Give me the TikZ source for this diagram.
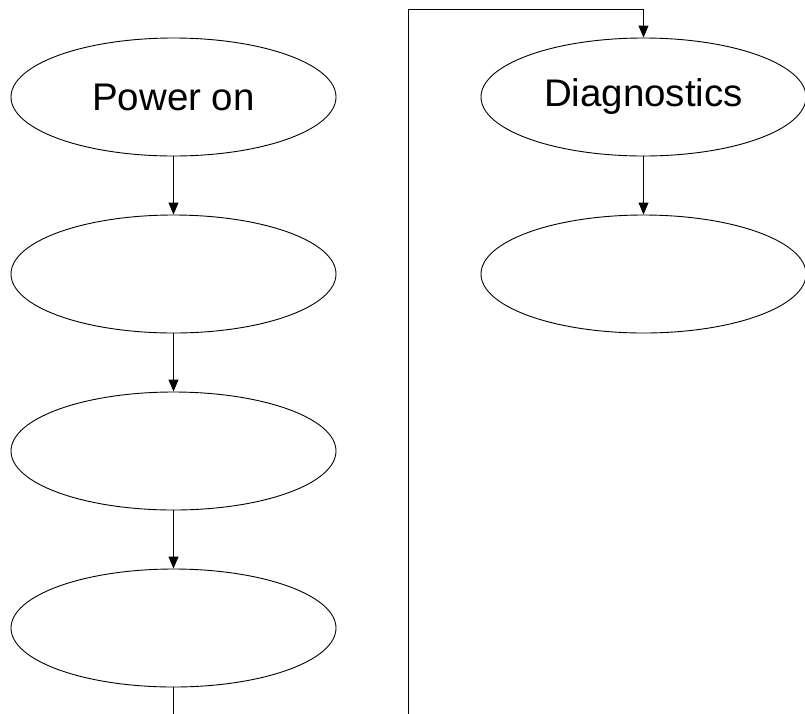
\documentclass[tikz,border=0pt]{standalone}
\usepackage{fontspec}
\setmainfont{Liberation Sans}
\usetikzlibrary{shapes.geometric,arrows.meta}
\begin{document}
\begin{tikzpicture}[x=1pt,y=-1pt,
  oval/.style={draw=black,line width=0.9pt,ellipse,minimum width=325pt,minimum height=118pt,inner sep=0pt,font=\fontsize{38.5}{46}\selectfont},
  conn/.style={draw=black,line width=0.9pt,-{Triangle[width=10pt,length=12pt]}},
  plain/.style={draw=black,line width=0.9pt}]
\useasboundingbox (0,0) rectangle (805,713);
\node[oval] (p1) at (173.5,97) {Power on};
\node[oval] (p2) at (173.5,274) {};
\node[oval] (p3) at (173.5,451) {};
\node[oval] (p4) at (173.5,628) {};
\node[oval] (d1) at (643.5,97) {Diagnostics};
\node[oval] (d2) at (643.5,274) {};
\coordinate (b1) at (173.5,714);
\coordinate (b2) at (408,714);
\coordinate (t1) at (408,9.5);
\coordinate (t2) at (643.5,9.5);
\draw[conn] (p1.south) -- (p2.north);
\draw[conn] (p2.south) -- (p3.north);
\draw[conn] (p3.south) -- (p4.north);
\draw[plain] (p4.south) -- (b1);
\draw[conn] (d1.south) -- (d2.north);
\draw[conn] (b2) -- (t1) -- (t2) -- (d1.north);
\end{tikzpicture}
\end{document}
